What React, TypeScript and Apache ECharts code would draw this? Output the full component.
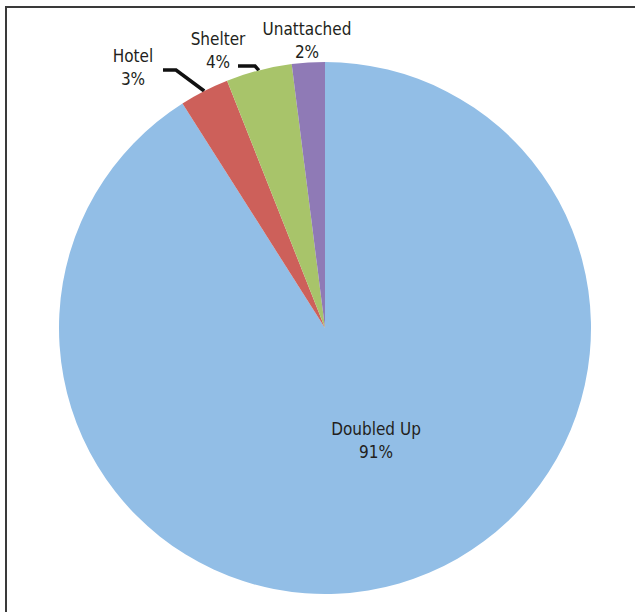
import React, { useEffect, useRef } from "react";
import * as echarts from "echarts";

// ---- data ----
const categories = ["Doubled Up", "Hotel", "Shelter", "Unattached"];
const values = [91, 3, 4, 2];
const colors = ["#92BEE6", "#CD605A", "#A8C46A", "#8F7AB6"];

// ---- layout (label centres and leader-line offsets relative to label centre) ----
const labelCenters: number[][] = [
  [376, 440],
  [133, 67],
  [218, 50],
  [307, 40],
];
const leaders: Record<number, { end: number[]; elbow: number[] }> = {
  1: { end: [30, 3], elbow: [43, 3] },
  2: { end: [20, 16], elbow: [37, 16] },
};

const FONT = "'Liberation Sans Narrow', 'DejaVu Sans Condensed', sans-serif";

export default function App() {
  const ref = useRef<HTMLDivElement>(null);
  useEffect(() => {
    if (!ref.current) return;
    const chart = echarts.init(ref.current, undefined, { renderer: "svg" });
    const data = categories.map((name, i) => ({
      name,
      value: values[i],
      itemStyle: { color: colors[i] },
      label: { position: i === 0 ? "inside" : "outside" },
      labelLine: { show: !!leaders[i] },
    }));
    chart.setOption({
      animation: false,
      backgroundColor: "#ffffff",
      graphic: [
        {
          type: "rect",
          shape: { x: 6, y: 7, width: 660, height: 640 },
          style: { fill: "none", stroke: "#3a3a3a", lineWidth: 2 },
          silent: true,
        },
      ],
      series: [
        {
          type: "pie",
          center: [325, 328],
          radius: 266,
          startAngle: 90,
          clockwise: true,
          avoidLabelOverlap: false,
          emphasis: { disabled: true },
          data,
          label: {
            show: true,
            fontFamily: FONT,
            fontSize: 17,
            lineHeight: 23,
            color: "#231f20",
            align: "center",
            formatter: (p: any) => `${p.name}\n${Math.round(p.percent)}%`,
          },
          labelLine: {
            length: 10,
            length2: 10,
            smooth: false,
            lineStyle: { color: "#111111", width: 3.5 },
          },
          labelLayout: (params: any) => {
            const i = params.dataIndex;
            const c = labelCenters[i];
            const out: any = { x: c[0], y: c[1], align: "center", verticalAlign: "middle" };
            const ld = leaders[i];
            if (ld && params.labelLinePoints && params.labelLinePoints.length) {
              const start = params.labelLinePoints[0];
              out.labelLinePoints = [
                [start[0], start[1]],
                [c[0] + ld.elbow[0], c[1] + ld.elbow[1]],
                [c[0] + ld.end[0], c[1] + ld.end[1]],
              ];
            }
            return out;
          },
        },
      ],
    });
    return () => chart.dispose();
  }, []);
  return (
    <div
      ref={ref}
      style={{ position: "fixed", left: 0, top: 0, width: 635, height: 612 }}
    />
  );
}
